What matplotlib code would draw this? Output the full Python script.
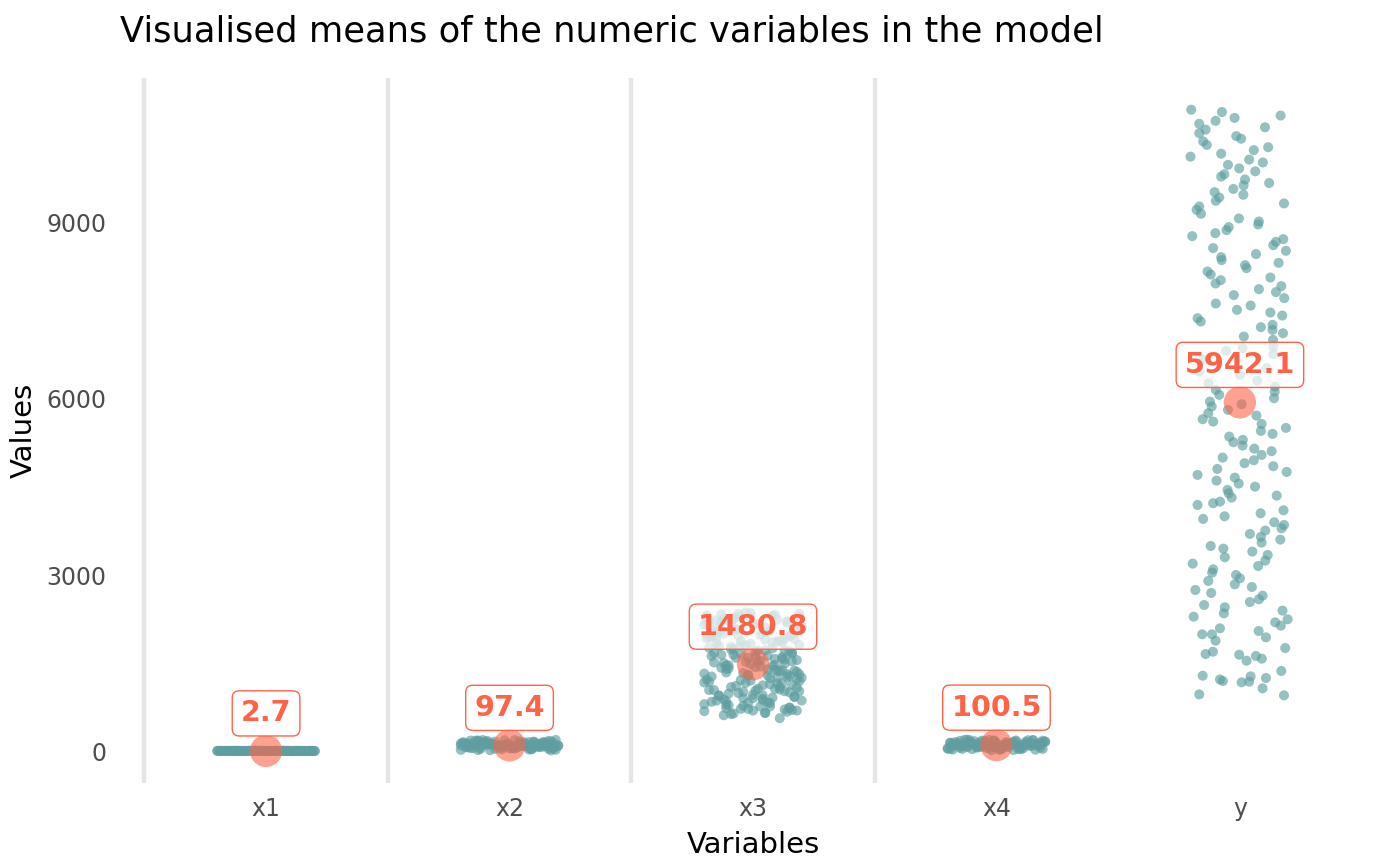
import matplotlib
matplotlib.use("Agg")
import matplotlib.pyplot as plt
import numpy as np

# ---------------------------------------------------------------------------
# Data
# ---------------------------------------------------------------------------

CATEGORIES = ["x1", "x2", "x3", "x4", "y"]
MEANS = [2.7, 97.4, 1480.8, 100.5, 5942.1]

# horizontal jitter (in category units)
JIT_A = [-0.19, 0.07, -0.12, 0.15, 0.02, -0.05, 0.18, -0.16, 0.11, -0.01,
         0.09, -0.14, 0.19, -0.08, 0.04, -0.18, 0.13, -0.03, 0.06, -0.11,
         0.16, -0.07, 0.00, -0.15, 0.12, -0.20, 0.08, 0.17, -0.09, 0.03,
         -0.13, 0.14, -0.04, 0.10, -0.17, 0.05, -0.06, 0.18, -0.10, 0.01,
         0.20, -0.02, 0.11, -0.19, 0.07, -0.12, 0.15, -0.08, 0.13, -0.15,
         0.04, -0.05, 0.19, -0.18, 0.09, -0.01, 0.16, -0.11, 0.02, -0.14,
         0.12, -0.07, 0.06, -0.20, 0.17, -0.03, 0.10, -0.16, 0.14, -0.09,
         0.01, -0.13, 0.18, -0.04, 0.08, -0.17, 0.05, -0.10, 0.20, -0.06,
         0.03, -0.19, 0.11, -0.12, 0.15, -0.02, 0.07, -0.15, 0.13, -0.08,
         0.19, -0.05, 0.00, -0.18, 0.09, -0.11, 0.16, -0.14, 0.04, -0.01]

JIT_B = [0.12, -0.17, 0.05, -0.02, 0.19, -0.09, 0.14, -0.20, 0.08, -0.13,
         0.01, 0.17, -0.06, 0.10, -0.15, 0.03, -0.11, 0.20, -0.04, 0.15,
         -0.18, 0.06, -0.08, 0.13, -0.01, 0.18, -0.14, 0.09, -0.19, 0.04,
         0.16, -0.10, 0.00, -0.16, 0.11, -0.05, 0.19, -0.12, 0.07, -0.03,
         0.14, -0.20, 0.02, 0.17, -0.07, 0.10, -0.17, 0.05, -0.13, 0.18,
         -0.09, 0.12, -0.02, 0.08, -0.18, 0.15, -0.06, 0.01, -0.14, 0.20,
         -0.11, 0.03, 0.16, -0.04, 0.09, -0.19, 0.13, -0.08, 0.06, -0.16,
         0.18, -0.01, 0.11, -0.12, 0.04, -0.20, 0.14, -0.05, 0.07, -0.15,
         0.02, 0.19, -0.10, 0.15, -0.03, 0.10, -0.17, 0.00, -0.07, 0.12,
         -0.13, 0.17, -0.09, 0.05, -0.18, 0.13, -0.02, 0.08, -0.11, 0.16]

X1_VALUES = [3, 2, 4, 1, 3, 5, 2, 3, 0, 4, 2, 3, 1, 2, 6, 3, 2, 4, 3, 1,
             2, 5, 3, 2, 4, 0, 3, 2, 1, 4, 3, 2, 5, 3, 1, 2, 4, 3, 2, 3,
             1, 4, 2, 3, 6, 2, 3, 1, 4, 2, 3, 5, 2, 0, 3, 4, 2, 1, 3, 2,
             4, 3, 2, 5, 1, 3, 2, 4, 3, 2, 1, 3, 4, 2, 3, 5, 2, 3, 1, 4,
             2, 3, 0, 4, 2, 3, 5, 1, 3, 2, 4, 3, 2, 1, 3, 4, 2, 3, 2, 3]

X2_VALUES = [112, 64, 145, 88, 23, 171, 97, 130, 55, 181, 76, 104, 39, 158, 120,
             68, 187, 92, 47, 136, 83, 149, 15, 118, 101, 62, 176, 29, 139, 95,
             72, 163, 108, 51, 127, 86, 190, 34, 114, 79, 155, 98, 43, 168, 121,
             59, 132, 90, 18, 143, 106, 70, 184, 26, 125, 81, 161, 48, 110, 94,
             137, 57, 173, 102, 36, 150, 66, 117, 85, 179, 41, 128, 99, 60, 166,
             21, 141, 89, 115, 53, 185, 74, 134, 96, 31, 159, 107, 45, 123, 82,
             170, 12, 146, 93, 63, 131, 78, 153, 103, 38]

X4_VALUES = [67, 152, 38, 119, 186, 94, 25, 141, 103, 175, 58, 128, 81, 162, 14,
             110, 194, 46, 135, 89, 71, 157, 32, 124, 99, 180, 53, 146, 113, 20,
             168, 85, 139, 61, 191, 107, 42, 130, 77, 159, 96, 28, 149, 116, 183,
             64, 122, 36, 171, 92, 55, 137, 101, 188, 74, 17, 144, 118, 83, 165,
             49, 127, 104, 178, 69, 153, 31, 133, 97, 192, 60, 121, 87, 161, 44,
             109, 174, 79, 140, 23, 156, 115, 52, 185, 93, 131, 66, 148, 106, 35,
             170, 88, 126, 57, 143, 100, 182, 72, 111, 41]

X3_VALUES = [2310, 1240, 880, 1960, 1530, 720, 2150, 1670, 1050, 2280,
             1390, 940, 1810, 640, 2040, 1180, 1720, 2360, 830, 1460,
             1990, 1110, 690, 2230, 1600, 1320, 910, 2090, 1780, 760,
             1420, 2190, 1010, 1870, 1270, 650, 2340, 1550, 980, 1690,
             2120, 820, 1360, 1920, 1140, 2260, 740, 1640, 1490, 2010,
             870, 1210, 2300, 1760, 1060, 1830, 700, 1400, 2170, 950,
             1580, 2070, 1290, 800, 1910, 1160, 2240, 1510, 670, 1730,
             1030, 2330, 1350, 900, 1850, 1620, 2110, 780, 1250, 1970,
             1440, 2200, 1090, 610, 1700, 1300, 2050, 860, 1560, 2270,
             1190, 1800, 960, 2140, 1470, 730, 1660, 2020, 1120, 2350,
             1380, 840, 1900, 1590, 1020, 2180, 1260, 680, 1750, 2060,
             1430, 920, 2290, 1150, 1840, 1540, 790, 2100, 1330, 1000,
             1940, 1620, 2250, 710, 1480, 1080, 1790, 2320, 1220, 890,
             1680, 1410, 2160, 1040, 560, 1870, 1310, 2000, 760, 1520,
             2210, 1170, 1710, 930, 2080, 1370, 1950, 650, 1640, 1230,
             1090, 1850, 720, 1450, 2230, 1280, 990, 1610, 2100, 860,
             1340, 1980, 1130, 770, 1570, 2270, 1020, 1740, 1390, 2010,
             690, 1200, 1880, 1500, 950, 2150, 1310, 1660, 820, 1930,
             1060, 2340, 1460, 740, 1800, 1250, 2060, 900, 1590, 1160,
             2200, 1370, 630, 1720, 1040, 1910, 1290, 2300, 850, 1530]

Y_VALUES = [10930, 10890, 10740, 10790, 10830, 10690, 10590, 10530, 10630, 10480,
            10435, 10390, 10330, 10130, 10180, 10240, 10290, 10080, 10030, 9990,
            9930, 9830, 9790, 9880, 9740, 9640, 9580, 9480, 9680, 9525,
            9434, 9378, 9332, 9281, 9224, 9156, 9076, 8929, 8878, 9025,
            8974, 8775, 8826, 8724, 8678, 8621, 8571, 8525, 8417, 8366,
            8469, 8320, 8281, 8230, 8172, 8121, 8025, 7968, 8070, 7923,
            7821, 7718, 7872, 7770, 7627, 7592,
            7519, 7377, 7320, 7474, 7422, 7224, 7263, 7178, 7121, 7064,
            7008, 6894, 6820, 6866, 6763, 6667, 6467, 6525, 6411, 6314,
            6269, 6212, 6126, 6013, 6155, 6070, 5956, 5871, 5757, 5655,
            5615, 5814, 5911, 5717, 5575, 5456, 5405, 5507, 5359, 5263,
            5303, 5206, 5154, 5110, 5047, 5001, 4808, 4905, 4956, 4854,
            4757, 4706, 4609, 4660, 4558, 4506, 4450, 4393, 4319, 4353,
            4194, 4223, 4251,
            3956, 4001, 4052, 4103, 3899, 3853, 3796, 3757, 3700, 3649,
            3552, 3603, 3495, 3450, 3302, 3399, 3342, 3245, 3154, 3194,
            3097, 3041, 3001, 2944, 2842, 2899, 2745, 2694, 2796, 2648,
            2586, 2540, 2489, 2450, 2347, 2290, 2393, 2194, 2137, 2245,
            2092, 1989, 1990, 1881, 2046, 1938, 1756, 1654, 1693, 1642,
            1540, 1620, 1574, 1284, 1220, 1194, 1171, 1273, 1182, 1245,
            1069, 1364, 966, 949]

Y_JITTER = [-0.200, -0.074, -0.100, -0.022, 0.167, -0.167, -0.141, -0.167, 0.103, -0.015,
            0.005, -0.151, -0.136, -0.203, -0.077, 0.057, 0.116, 0.038, 0.094, -0.049,
            -0.003, -0.064, -0.077, 0.063, 0.021, 0.015, -0.027, 0.014, 0.120, -0.104,
            -0.085, -0.099, 0.181, -0.167, -0.178, -0.160, -0.004, -0.046, -0.055, 0.078,
            0.075, -0.196, -0.101, 0.178, 0.148, 0.137, -0.110, 0.189, -0.077, -0.075,
            0.066, 0.159, 0.021, 0.027, -0.133, -0.120, -0.079, -0.100, 0.125, 0.170,
            0.148, 0.182, 0.078, -0.025, -0.099, 0.044,
            -0.012, -0.174, -0.161, 0.125, 0.174, 0.086, 0.134, 0.134, 0.177, 0.016,
            0.136, 0.137, -0.057, 0.011, 0.137, -0.151, -0.167, 0.110, 0.000, 0.071,
            -0.129, 0.144, 0.143, 0.140, -0.099, -0.085, -0.123, -0.116, -0.130, -0.153,
            -0.110, -0.049, 0.007, 0.068, 0.089, 0.086, 0.134, 0.189, -0.044, -0.027,
            0.012, 0.011, 0.059, 0.130, 0.089, -0.071, -0.093, 0.019, 0.057, 0.137,
            0.192, -0.174, -0.096, -0.021, -0.005, 0.062, -0.051, -0.046, -0.034, 0.151,
            -0.174, -0.110, -0.082,
            -0.151, -0.063, 0.085, 0.179, 0.141, 0.181, 0.171, 0.104, 0.041, 0.086,
            0.089, 0.166, -0.120, -0.068, -0.062, 0.051, 0.114, 0.104, 0.075, -0.194,
            -0.110, -0.114, -0.016, 0.000, -0.021, -0.130, -0.183, -0.118, 0.049, 0.093,
            0.078, 0.041, -0.147, -0.062, -0.066, -0.190, 0.175, 0.145, 0.168, 0.196,
            -0.082, -0.115, -0.155, -0.100, 0.077, 0.107, 0.186, -0.141, -0.111, -0.003,
            0.027, 0.066, 0.090, -0.153, -0.082, -0.070, 0.007, 0.044, 0.038, 0.107,
            0.093, 0.170, -0.167, 0.181]

Y_TICKS = [0, 3000, 6000, 9000]

POINT_COLOR = "#5F9EA0"
MEAN_COLOR = "#FF6347"
GRID_COLOR = "#E5E5E5"


# ---------------------------------------------------------------------------
# Plot
# ---------------------------------------------------------------------------

fig = plt.figure(figsize=(7, 4.33), dpi=200)
ax = fig.add_axes([0.0857, 0.0958, 0.9043, 0.8142])

for b in np.arange(0.5, len(CATEGORIES) - 0.5, 1.0):
    ax.axvline(b, color=GRID_COLOR, linewidth=1.6, zorder=0)

groups = [
    (X1_VALUES, JIT_A),
    (X2_VALUES, JIT_B),
    (X3_VALUES, JIT_A + JIT_B),
    (X4_VALUES, JIT_A[::-1]),
    (Y_VALUES, Y_JITTER),
]
for i, (vals, jit) in enumerate(groups):
    xs = i + 1 + np.asarray(jit[:len(vals)])
    ax.scatter(xs, vals, s=13, color=POINT_COLOR, alpha=0.65,
               edgecolors="none", zorder=2)

xpos = np.arange(1, len(CATEGORIES) + 1)
ax.scatter(xpos, MEANS, s=135, color=MEAN_COLOR, alpha=0.6,
           edgecolors="none", zorder=3)

for x, m in zip(xpos, MEANS):
    ax.annotate(f"{m:.1f}", (x, m), xytext=(0, 13.5), textcoords="offset points",
                ha="center", va="center", fontsize=10.3, fontweight="bold",
                color=MEAN_COLOR, zorder=4,
                bbox=dict(boxstyle="round,pad=0.3,rounding_size=0.25",
                          facecolor=(1, 1, 1, 0.7), edgecolor=MEAN_COLOR,
                          linewidth=0.5))

ax.set_xlim(0.4, 5.6)
ax.set_ylim(-545, 11471)
ax.set_xticks(xpos)
ax.set_xticklabels(CATEGORIES)
ax.set_yticks(Y_TICKS)
ax.set_yticklabels([str(t) for t in Y_TICKS])
ax.tick_params(length=0, labelsize=8.5, labelcolor="#4D4D4D", pad=5)

for s in ax.spines.values():
    s.set_visible(False)

ax.set_xlabel("Variables", fontsize=10.5, labelpad=3.5)
ax.set_ylabel("Values", fontsize=10.5, labelpad=3)
ax.set_title("Visualised means of the numeric variables in the model",
             loc="left", fontsize=12.7, pad=13)

fig.savefig("out.png", dpi=200)
